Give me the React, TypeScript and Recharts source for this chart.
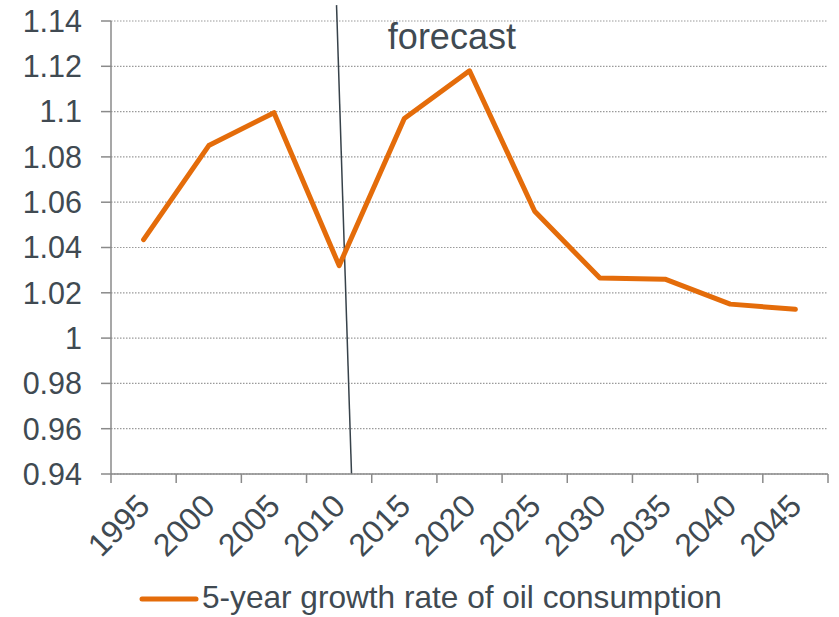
import React from 'react';
import { LineChart, Line, XAxis, YAxis, CartesianGrid, ReferenceLine, ReferenceDot } from 'recharts';

const YEARS = ['1995', '2000', '2005', '2010', '2015', '2020', '2025', '2030', '2035', '2040', '2045'];
const GROWTH = [1.0435, 1.085, 1.0995, 1.032, 1.097, 1.118, 1.056, 1.0265, 1.026, 1.015, 1.0127];
const Y_TICKS = [0.94, 0.96, 0.98, 1, 1.02, 1.04, 1.06, 1.08, 1.1, 1.12, 1.14];
const SERIES_NAME = '5-year growth rate of oil consumption';
const FORECAST_LABEL = 'forecast';
// forecast divider, in data coordinates (category index, value)
const FORECAST_LINE = [
  { x: 2.96, y: 1.147 },
  { x: 3.19, y: 0.94 },
];
const FORECAST_LABEL_POS = { x: 4.73, y: 1.1275 };

const data = YEARS.map((year, i) => ({ i, year, growth: GROWTH[i] }));
// tick marks sit on the boundaries between categories
const BOUNDARY_TICKS = [...YEARS.map((_, i) => i - 0.5), YEARS.length - 0.5];

const FONT = '"Liberation Sans", Arial, sans-serif';
const TEXT = '#404a52';
const AXIS = '#8a8a8a';
const ORANGE = '#e46c0a';

const XTick = (props: any) => {
  const { x, y, payload, width } = props;
  const idx = Math.round(payload.value + 0.5);
  if (idx < 0 || idx >= YEARS.length) return null;
  const band = (typeof width === 'number' && width > 0 ? width : 717) / YEARS.length;
  const ax = x + band / 2 + 8;
  const ay = y + 25;
  return (
    <text
      x={ax}
      y={ay}
      transform={`rotate(-45 ${ax} ${ay})`}
      textAnchor="end"
      fontSize={32}
      fill={TEXT}
      fontFamily={FONT}
    >
      {YEARS[idx]}
    </text>
  );
};

const fmtY = (v: number) => String(Number(v.toFixed(2)));

export default function App() {
  return (
    <div style={{ position: 'absolute', left: 0, top: 0, width: 839, height: 617, background: '#fff' }}>
      <LineChart
        width={839}
        height={617}
        data={data}
        margin={{ top: 21, right: 11, bottom: 0, left: 0 }}
        style={{ fontFamily: FONT }}
      >
        <CartesianGrid
          vertical={false}
          stroke="#9a9a9a"
          strokeDasharray="1.5 1.5"
          strokeWidth={1.2}
        />
        <XAxis
          dataKey="i"
          type="number"
          domain={[-0.5, YEARS.length - 0.5]}
          ticks={BOUNDARY_TICKS}
          tick={<XTick />}
          tickSize={9}
          tickMargin={0}
          height={143}
          interval={0}
          allowDataOverflow
          axisLine={{ stroke: AXIS, strokeWidth: 1.5 }}
          tickLine={{ stroke: AXIS, strokeWidth: 1.5 }}
        />
        <YAxis
          type="number"
          domain={[0.94, 1.14]}
          ticks={Y_TICKS}
          tickFormatter={fmtY}
          width={111}
          tickSize={10}
          tickMargin={19}
          interval={0}
          allowDataOverflow
          axisLine={{ stroke: AXIS, strokeWidth: 1.5 }}
          tickLine={{ stroke: AXIS, strokeWidth: 1.5 }}
          tick={{ fontSize: 30.5, fill: TEXT, fontFamily: FONT }}
        />
        <ReferenceLine
          segment={FORECAST_LINE}
          stroke="#37424a"
          strokeWidth={1.5}
          ifOverflow="visible"
        />
        <ReferenceDot
          x={FORECAST_LABEL_POS.x}
          y={FORECAST_LABEL_POS.y}
          ifOverflow="visible"
          shape={(p: any) => (
            <text x={p.cx} y={p.cy} textAnchor="middle" fontSize={36} fill={TEXT} fontFamily={FONT}>
              {FORECAST_LABEL}
            </text>
          )}
        />
        <Line
          type="linear"
          dataKey="growth"
          name={SERIES_NAME}
          stroke={ORANGE}
          strokeWidth={5}
          strokeLinecap="round"
          strokeLinejoin="round"
          dot={false}
          activeDot={false}
          isAnimationActive={false}
        />
      </LineChart>
      <svg
        width={839}
        height={42}
        style={{ position: 'absolute', left: 0, top: 575, pointerEvents: 'none' }}
      >
        <line x1={142} y1={24} x2={196} y2={24} stroke={ORANGE} strokeWidth={5} strokeLinecap="round" />
        <text x={202} y={33} fontSize={31.6} fill={TEXT} fontFamily={FONT}>
          {SERIES_NAME}
        </text>
      </svg>
    </div>
  );
}
